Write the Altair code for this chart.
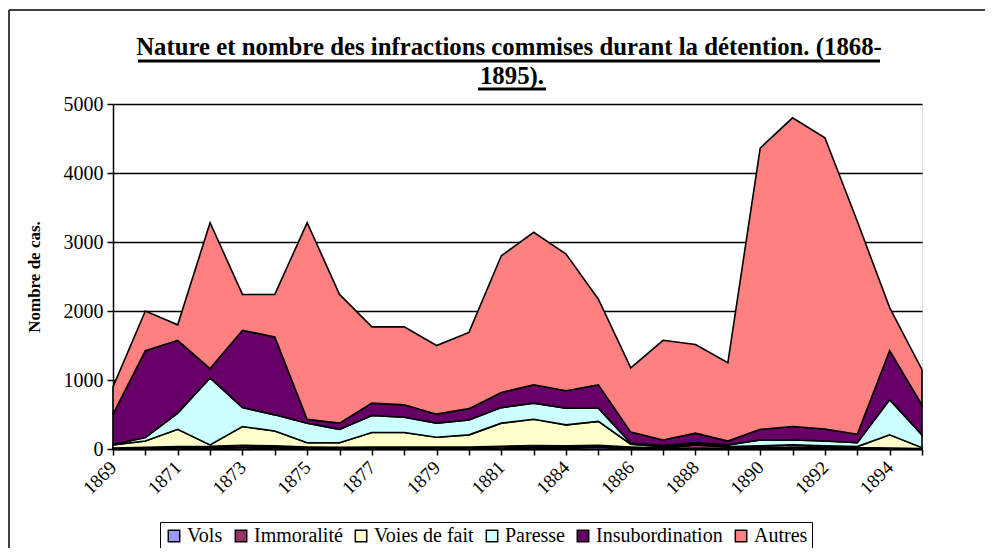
import altair as alt
import pandas as pd

years = ["1869", "1870", "1871", "1872", "1873", "1874", "1875", "1876", "1877", "1878",
         "1879", "1880", "1881", "1883", "1884", "1885", "1886", "1887", "1888", "1889",
         "1890", "1891", "1892", "1893", "1894", "1895"]

vols = [5, 10, 15, 20, 25, 20, 10, 10, 10, 10, 10, 10, 15, 20, 20, 30, 10, 5, 10, 5, 5, 10, 10, 5, 5, 0]
immoralite = [10, 15, 20, 20, 30, 25, 20, 15, 20, 20, 20, 20, 25, 30, 25, 25, 20, 10, 50, 25, 15, 20, 20, 15, 10, 5]
voies_de_fait = [45, 90, 250, 20, 270, 215, 60, 65, 210, 210, 140, 175, 335, 380, 305, 345, 40, 20, 20, 5, 25, 30, 15, 15, 190, 15]
paresse = [5, 50, 235, 970, 275, 235, 285, 195, 245, 220, 205, 215, 225, 235, 240, 190, 15, 15, 15, 25, 85, 70, 70, 55, 510, 185]
insubordination = [440, 1260, 1055, 135, 1120, 1130, 55, 90, 180, 180, 130, 165, 220, 265, 255, 340, 160, 80, 135, 55, 155, 195, 175, 125, 710, 435]
autres = [395, 575, 225, 2115, 520, 615, 2850, 1865, 1105, 1130, 995, 1105, 1980, 2210, 1980, 1240, 930, 1445, 1285, 1135, 4075, 4475, 4220, 3085, 625, 510]

series_names = ["Vols", "Immoralité", "Voies de fait", "Paresse", "Insubordination", "Autres"]
series_values = [vols, immoralite, voies_de_fait, paresse, insubordination, autres]
series_colors = ["#9999FF", "#993366", "#FFFFCC", "#CCFFFF", "#660066", "#FF8080"]

title_lines = ["Nature et nombre des infractions commises durant la détention. (1868-", "1895)."]
y_ticks = [0, 1000, 2000, 3000, 4000, 5000]

rows = []
for k, (name, vals) in enumerate(zip(series_names, series_values)):
    for year, v in zip(years, vals):
        rows.append({"Année": year, "Type": name, "k": k, "Nombre": v})
df = pd.DataFrame(rows)

FONT = "Liberation Serif, Times New Roman, Times, serif"
PW, PH = 809, 345

years_js = "[" + ",".join("'%s'" % y for y in years) + "]"
label_expr = "indexof(%s, datum.label) %% 2 == 0 ? datum.label : ''" % years_js

area = alt.Chart(df).mark_area(stroke="black", strokeWidth=1.6, strokeJoin="miter").encode(
    x=alt.X("Année:O", sort=years,
            scale=alt.Scale(type="point", padding=0),
            axis=alt.Axis(title=None, labelAngle=-45, labelAlign="right", labelBaseline="middle",
                          labelExpr=label_expr, labelFont=FONT, labelFontSize=19,
                          labelColor="black", labelPadding=9, tickSize=6, tickColor="black",
                          tickWidth=1.5, domainColor="black", domainWidth=2, labelOverlap=False)),
    y=alt.Y("Nombre:Q", stack="zero",
            scale=alt.Scale(domain=[0, 5000], nice=False),
            axis=alt.Axis(title="Nombre de cas.", values=y_ticks, format="d", titleFont=FONT,
                          titleFontSize=17, titleFontWeight="bold", titleColor="black",
                          titlePadding=20,
                          labelFont=FONT, labelFontSize=20, labelColor="black", labelPadding=4,
                          tickSize=6, tickColor="black", tickWidth=1.5, domainColor="black",
                          domainWidth=1.5, grid=True, gridColor="black", gridWidth=1.5,
                          gridOpacity=1)),
    fill=alt.Fill("Type:N", sort=series_names,
                  scale=alt.Scale(domain=series_names, range=series_colors),
                  legend=alt.Legend(title=None, orient="none", legendX=47, legendY=418,
                                    direction="horizontal", symbolType="square", symbolSize=130,
                                    symbolStrokeColor="black", symbolStrokeWidth=1.5,
                                    labelFont=FONT, labelFontSize=20, labelColor="black",
                                    labelOffset=3, columnPadding=8, strokeColor="black",
                                    padding=4, labelLimit=300, values=series_names)),
    order=alt.Order("k:Q", sort="ascending"),
)

one = alt.Data(values=[{}])

def rule(x1, x2, y1, y2, width, color="black"):
    return alt.Chart(one).mark_rule(strokeWidth=width, color=color, clip=False).encode(
        x=alt.value(x1), x2=alt.value(x2), y=alt.value(y1), y2=alt.value(y2))

def text(line, x, y):
    return alt.Chart(one).mark_text(font=FONT, fontSize=24.8, fontWeight="bold", color="black",
                                    align="center", baseline="alphabetic", clip=False).encode(
        x=alt.value(x), y=alt.value(y), text=alt.value(line))

title1 = text(title_lines[0], 396, -49)
title2 = text(title_lines[1], 399, -20)
underline1 = rule(25, 767, -43, -43, 3)
underline2 = rule(365, 433, -15, -15, 3)
border_top = rule(-104, PW + 63, -94, -94, 1.5)
border_left = rule(-104, -104, -94, PH + 100, 1.5)

chart = alt.layer(area, title1, title2, underline1, underline2, border_top, border_left).properties(
    width=PW, height=PH,
    autosize=alt.AutoSizeParams(type="none"),
    padding={"left": 105, "top": 96, "right": 63, "bottom": 99},
).configure_view(
    fill="#C0C0C0", stroke="#808080", strokeWidth=1.5
).configure(background="white")

chart.save("out.html", embed_options={"renderer": "svg", "actions": False})
